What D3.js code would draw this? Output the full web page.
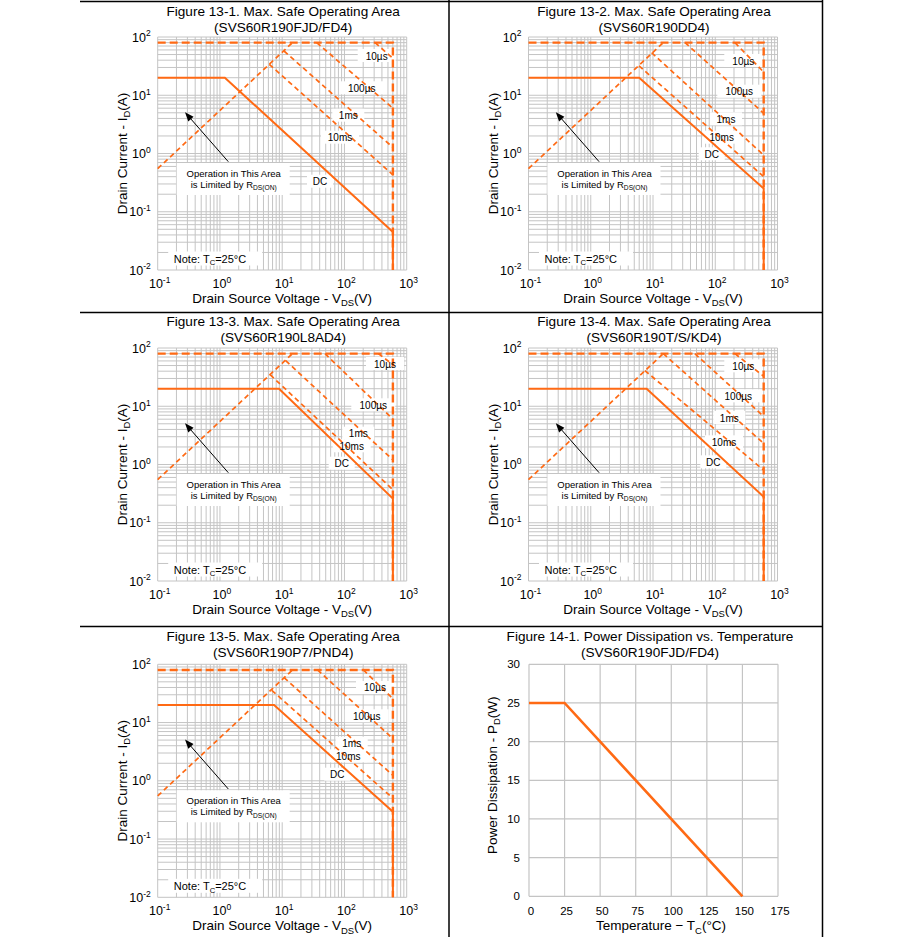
<!DOCTYPE html>
<html><head><meta charset="utf-8">
<script src="https://cdn.jsdelivr.net/npm/d3@7"></script>
<style>
body{margin:0;background:#fff}
svg{display:block}
text{font-family:"Liberation Sans",Arial,sans-serif;fill:#000}
</style>
</head><body>
<svg id="c" width="908" height="937"></svg>
<script>
// ---------------- DATA ----------------
const soaTitles = ["Figure 13-1. Max. Safe Operating Area","Figure 13-2. Max. Safe Operating Area","Figure 13-3. Max. Safe Operating Area","Figure 13-4. Max. Safe Operating Area","Figure 13-5. Max. Safe Operating Area"];
const soaParts = ["(SVS60R190FJD/FD4)","(SVS60R190DD4)","(SVS60R190L8AD4)","(SVS60R190T/S/KD4)","(SVS60R190P7/PND4)"];
const xTickExps = [-1,0,1,2,3];
const yTickExps = [-2,-1,0,1,2];
const pulseNames = ["10µs","100µs","1ms","10ms","DC"];
// boundary: IDM (80 A) and BVDSS (600 V)
const idmLimit = [[0.1,80],[600,80],[600,0.01]];
// RDS(on) limit line
const rdsLimit = [[0.1,0.55],[14.6,80]];
// per chart (V, I) points
const pulse10us = [
  [[310,80],[600,43]],
  [[207,80],[600,25]],
  [[350,80],[600,52]],
  [[207,80],[600,32.7]],
  [[201,80],[600,25.7]]
];
const pulse100us = [
  [[35.8,80],[600,6.0]],
  [[32.7,80],[600,4.9]],
  [[48.7,80],[600,6.0]],
  [[47,80],[600,6.7]],
  [[37,80],[600,5.3]]
];
const pulse1ms = [
  [[10.7,57.5],[600,1.27]],
  [[9.5,53.8],[600,0.94]],
  [[11.4,60.5],[600,1.2]],
  [[14.6,80],[600,2.3]],
  [[10.7,59],[600,1.24]]
];
const pulse10ms = [
  [[6.2,34],[600,0.43]],
  [[5.96,32],[600,0.40]],
  [[6.4,34.8],[600,0.37]],
  [[7.4,41],[600,0.8]],
  [[6.8,35.8],[600,0.5]]
];
const dcLimit = [
  [[0.1,20],[1.2,20],[600,0.045],[600,0.01]],
  [[0.1,20],[6.0,20],[600,0.25],[600,0.01]],
  [[0.1,20],[8.9,20],[600,0.26],[600,0.01]],
  [[0.1,20],[7.9,20],[600,0.28],[600,0.01]],
  [[0.1,20],[7.4,20],[600,0.295],[600,0.01]]
];
// Power dissipation vs temperature
const tempTicks = [0,25,50,75,100,125,150,175];
const powerTicks = [0,5,10,15,20,25,30];
const pdCurve = [[0,25],[25,25],[150,0]];

// ---------------- LAYOUT ----------------
const W = 249, H = 233;
const colX = [157.7, 528.5];
const rowY = [37, 348, 664.3];
const titleDy = [[-26.3,-10.3],[-26.7,-11],[-28,-12.3]];
const panelPos = [[0,0],[1,0],[0,1],[1,1],[0,2]];
// label centres relative to plot origin (10µs,100µs,1ms,10ms,DC)
const labelPos = [
  [[219,19],[204,51.3],[190.6,78.7],[182.3,100.7],[162.3,144.7]],
  [[214.8,24],[210.8,54.7],[197.5,82.3],[193.2,100.7],[183.2,117.3]],
  [[227.3,16],[215.6,57.3],[200.6,85.7],[194,98.3],[184,115.7]],
  [[214.8,18.3],[209.8,48.3],[200.8,70],[195.5,94.3],[184.8,114.3]],
  [[217.3,23.7],[209,52],[194,79.4],[190.6,92],[179.6,110.4]]
];
const ORANGE = "#ff6a14";
const GRID = "#c4c4c4";
const TFS = 13.6;

const svg = d3.select("#c");

// table borders
const borders = svg.append("g").attr("stroke","#000").attr("stroke-width",1.5);
[1.5,312.5,626.5].forEach(y=>borders.append("line").attr("x1",80).attr("x2",823).attr("y1",y).attr("y2",y));
[449,822.5].forEach(x=>borders.append("line").attr("x1",x).attr("x2",x).attr("y1",0).attr("y2",937));

function supText(g, x, y, base, exp, fs, anchor){
  const t = g.append("text").attr("x",x).attr("y",y).attr("font-size",fs).attr("text-anchor",anchor);
  t.append("tspan").text(base);
  t.append("tspan").attr("dy",-fs*0.42).attr("font-size",fs*0.68).text(exp);
  return t;
}
function subText(g, x, y, parts, fs, anchor){
  const t = g.append("text").attr("x",x).attr("y",y).attr("font-size",fs).attr("text-anchor",anchor);
  t.append("tspan").text(parts[0]);
  t.append("tspan").attr("dy",fs*0.25).attr("font-size",fs*0.7).text(parts[1]);
  t.append("tspan").attr("dy",-fs*0.25).text(parts[2]);
  return t;
}

function drawSOA(i){
  const [c,r] = panelPos[i];
  const ox = colX[c], oy = rowY[r];
  const g = svg.append("g").attr("transform",`translate(${ox},${oy})`);
  const x = d3.scaleLog().domain([0.1,1000]).range([0,W]);
  const y = d3.scaleLog().domain([0.01,100]).range([H,0]);
  const cx = W/2;
  g.append("text").attr("x",cx+1).attr("y",titleDy[r][0]+4.8).attr("text-anchor","middle").attr("font-size",TFS).text(soaTitles[i]);
  g.append("text").attr("x",cx+1).attr("y",titleDy[r][1]+4.8).attr("text-anchor","middle").attr("font-size",TFS).text(soaParts[i]);
  const gx = [], gy = [];
  for(let e=-1;e<=2;e++) for(let k=1;k<=9;k++) gx.push(k*Math.pow(10,e));
  gx.push(1000);
  for(let e=-2;e<=1;e++) for(let k=1;k<=9;k++) gy.push(k*Math.pow(10,e));
  gy.push(100);
  const grid = g.append("g").attr("stroke",GRID).attr("stroke-width",1);
  gx.forEach(v=>grid.append("line").attr("x1",x(v)).attr("x2",x(v)).attr("y1",0).attr("y2",H));
  gy.forEach(v=>grid.append("line").attr("y1",y(v)).attr("y2",y(v)).attr("x1",0).attr("x2",W));
  xTickExps.forEach(e=>supText(g, x(Math.pow(10,e))+2, H+18, "10", String(e), 12.5, "middle"));
  yTickExps.forEach(e=>supText(g, -7, y(Math.pow(10,e))+4.5, "10", String(e), 12.5, "end"));
  subText(g, cx, H+33, ["Drain Source Voltage - V","DS","(V)"], 13.5, "middle");
  subText(g.append("g").attr("transform",`translate(-31,${H/2}) rotate(-90)`), 0, 0, ["Drain Current - I","D","(A)"], 13.5, "middle");
  const boxes = g.append("g").attr("fill","#fff");
  boxes.append("rect").attr("x",19).attr("y",126).attr("width",113).attr("height",32);
  boxes.append("rect").attr("x",10.5).attr("y",214.5).attr("width",94).attr("height",14);
  labelPos[i].forEach((p,k)=>{
    const w = pulseNames[k].length*6+14;
    boxes.append("rect").attr("x",p[0]-w/2).attr("y",p[1]-7).attr("width",w).attr("height",13);
  });
  const line = d3.line().x(d=>x(d[0])).y(d=>y(d[1]));
  g.append("path").attr("d",line(idmLimit)).attr("fill","none").attr("stroke",ORANGE).attr("stroke-width",2.4).attr("stroke-dasharray","8,4");
  const thin = [rdsLimit, pulse10us[i], pulse100us[i], pulse1ms[i], pulse10ms[i]];
  thin.forEach(d=>g.append("path").attr("d",line(d)).attr("fill","none").attr("stroke",ORANGE).attr("stroke-width",1.7).attr("stroke-dasharray","5,3.5"));
  g.append("path").attr("d",line(dcLimit[i])).attr("fill","none").attr("stroke",ORANGE).attr("stroke-width",2);
  const ax1=70.6, ay1=124.7, ax2=27.3, ay2=75.3;
  g.append("line").attr("x1",ax1).attr("y1",ay1).attr("x2",ax2+3).attr("y2",ay2+3.4).attr("stroke","#000").attr("stroke-width",1);
  const ang = Math.atan2(ay2-ay1, ax2-ax1);
  const L=9, Wd=3.5;
  const p1=[ax2 - L*Math.cos(ang) + Wd*Math.sin(ang), ay2 - L*Math.sin(ang) - Wd*Math.cos(ang)];
  const p2=[ax2 - L*Math.cos(ang) - Wd*Math.sin(ang), ay2 - L*Math.sin(ang) + Wd*Math.cos(ang)];
  g.append("path").attr("d",`M${ax2},${ay2}L${p1}L${p2}Z`).attr("fill","#000");
  labelPos[i].forEach((p,k)=>g.append("text").attr("x",p[0]).attr("y",p[1]+3.5).attr("text-anchor","middle").attr("font-size",10).text(pulseNames[k]));
  g.append("text").attr("x",76).attr("y",139.5).attr("text-anchor","middle").attr("font-size",9.5).text("Operation in This Area");
  subText(g, 76, 151, ["is Limited by R","DS(ON)",""], 9.5, "middle");
  subText(g, 52.3, 225.5, ["Note: T","C","=25°C"], 11, "middle");
}
for(let i=0;i<5;i++) drawSOA(i);

// -------- Power dissipation panel --------
(function(){
  const ox = colX[1]+0.5, oy = rowY[2];
  const PW = 249, PH = 232;
  const g = svg.append("g").attr("transform",`translate(${ox},${oy})`);
  const x = d3.scaleLinear().domain([0,175]).range([0,PW]);
  const y = d3.scaleLinear().domain([0,30]).range([PH,0]);
  g.append("text").attr("x",121).attr("y",-23.2).attr("text-anchor","middle").attr("font-size",TFS).text("Figure 14-1. Power Dissipation vs. Temperature");
  g.append("text").attr("x",121).attr("y",-7.5).attr("text-anchor","middle").attr("font-size",TFS).text("(SVS60R190FJD/FD4)");
  const grid = g.append("g").attr("stroke",GRID).attr("stroke-width",1.2);
  tempTicks.forEach(v=>grid.append("line").attr("x1",x(v)).attr("x2",x(v)).attr("y1",0).attr("y2",PH));
  powerTicks.forEach(v=>grid.append("line").attr("y1",y(v)).attr("y2",y(v)).attr("x1",0).attr("x2",PW));
  tempTicks.forEach(v=>g.append("text").attr("x",x(v)+2).attr("y",PH+19).attr("text-anchor","middle").attr("font-size",11.5).text(v));
  powerTicks.forEach(v=>g.append("text").attr("x",-9).attr("y",y(v)+4).attr("text-anchor","end").attr("font-size",11.5).text(v));
  subText(g, 132, PH+34, ["Temperature  \u2212  T","C","(°C)"], 13.5, "middle");
  subText(g.append("g").attr("transform",`translate(-32.5,111) rotate(-90)`), 0, 0, ["Power Dissipation - P","D","(W)"], 13.5, "middle");
  g.append("path").attr("d",d3.line().x(d=>x(d[0])).y(d=>y(d[1]))(pdCurve)).attr("fill","none").attr("stroke",ORANGE).attr("stroke-width",2.6);
})();
</script>
</body></html>
